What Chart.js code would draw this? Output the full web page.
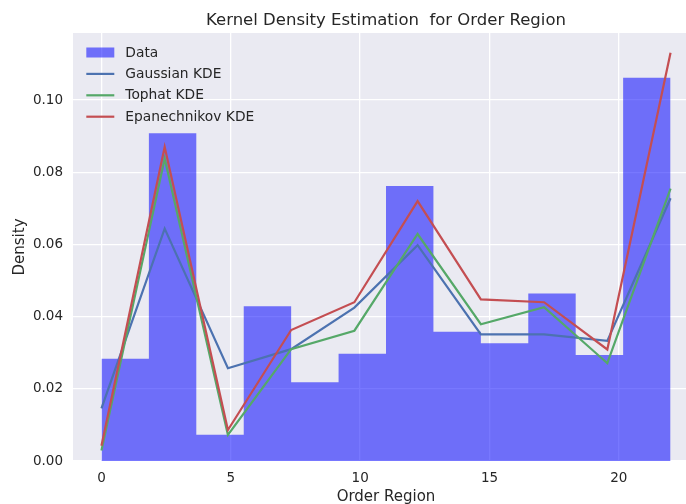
<!DOCTYPE html>
<html>
<head>
<meta charset="utf-8">
<script src="https://cdn.jsdelivr.net/npm/chart.js@4.4.0/dist/chart.umd.min.js"></script>
<style>
  html, body { margin: 0; padding: 0; background: #ffffff; overflow: hidden; }
  canvas { display: block; }
</style>
</head>
<body>
<canvas id="kde" width="712" height="504"></canvas>
<script>
// histogram (density) bins
const binEdges = [0, 1.8333, 3.6667, 5.5, 7.3333, 9.1667, 11, 12.8333, 14.6667, 16.5, 18.3333, 20.1667, 22];
const histDensity = [0.0283, 0.0908, 0.0073, 0.0429, 0.0218, 0.0297, 0.0762, 0.0358, 0.0326, 0.0464, 0.0294, 0.1062];

// KDE evaluation points and curves
const kdeX = [0, 2.444, 4.889, 7.333, 9.778, 12.222, 14.667, 17.111, 19.556, 22];
const gaussianKde = [0.0146, 0.0644, 0.0257, 0.0310, 0.0425, 0.0598, 0.0351, 0.0351, 0.0333, 0.0728];
const tophatKde = [0.0029, 0.0838, 0.0072, 0.0310, 0.0361, 0.0629, 0.0379, 0.0426, 0.0271, 0.0755];
const epanechnikovKde = [0.0042, 0.0870, 0.0086, 0.0363, 0.0440, 0.0720, 0.0448, 0.0440, 0.0309, 0.1131];

const seriesLabels = ["Data", "Gaussian KDE", "Tophat KDE", "Epanechnikov KDE"];
const xTicks = [0, 5, 10, 15, 20];
const yTicks = [0, 0.02, 0.04, 0.06, 0.08, 0.10];

const TITLE = "Kernel Density Estimation  for Order Region";
const X_TITLE = "Order Region";
const Y_TITLE = "Density";
const TEXT = "#262626";
const FONT = "'DejaVu Sans', sans-serif";

// histogram as one stepped, filled outline so adjacent bins join without seams
const histPoints = binEdges.map((e, i) => ({ x: e, y: histDensity[Math.min(i, histDensity.length - 1)] }));
const toPoints = (ys) => ys.map((v, i) => ({ x: kdeX[i], y: v }));

// background, titles and legend, drawn like the seaborn darkgrid figure
const decor = {
  id: 'decor',
  beforeDraw(chart) {
    const { ctx, chartArea: a } = chart;
    ctx.save();
    ctx.fillStyle = '#ffffff';
    ctx.fillRect(0, 0, chart.width, chart.height);
    ctx.fillStyle = '#eaeaf2';
    ctx.fillRect(a.left, a.top, a.right - a.left, a.bottom - a.top);
    ctx.restore();
  },
  afterDraw(chart) {
    const { ctx, chartArea: a } = chart;
    const cx = (a.left + a.right) / 2;
    ctx.save();
    ctx.fillStyle = TEXT;
    ctx.textAlign = 'center';
    ctx.textBaseline = 'alphabetic';
    ctx.font = '16.5px ' + FONT;
    ctx.fillText(TITLE, cx, 25);
    ctx.font = '15px ' + FONT;
    ctx.fillText(X_TITLE, cx, 501);
    ctx.save();
    ctx.translate(24, (a.top + a.bottom) / 2);
    ctx.rotate(-Math.PI / 2);
    ctx.fillText(Y_TITLE, 0, 0);
    ctx.restore();

    // legend, upper left inside the axes
    ctx.font = '13.8px ' + FONT;
    ctx.textAlign = 'left';
    ctx.textBaseline = 'middle';
    chart.data.datasets.forEach((ds, i) => {
      const y = a.top + 19.5 + i * 21.4;
      const x0 = a.left + 13.3;
      if (ds.fill) {
        ctx.fillStyle = ds.backgroundColor;
        ctx.fillRect(x0, y - 5, 28, 10);
      } else {
        ctx.strokeStyle = ds.borderColor;
        ctx.lineWidth = ds.borderWidth;
        ctx.beginPath();
        ctx.moveTo(x0, y);
        ctx.lineTo(x0 + 28, y);
        ctx.stroke();
      }
      ctx.fillStyle = TEXT;
      ctx.fillText(ds.label, x0 + 39, y + 0.5);
    });
    ctx.restore();
  }
};

Chart.defaults.font.family = FONT;
Chart.defaults.color = TEXT;

new Chart(document.getElementById('kde'), {
  type: 'line',
  data: {
    datasets: [
      {
        label: seriesLabels[0],
        data: histPoints,
        stepped: 'before',
        fill: 'origin',
        backgroundColor: 'rgba(0, 0, 255, 0.53)',
        borderColor: 'rgba(0, 0, 0, 0)',
        borderWidth: 0,
        pointRadius: 0,
        order: 4
      },
      {
        label: seriesLabels[1],
        data: toPoints(gaussianKde),
        borderColor: '#4c72b0',
        borderWidth: 2.2,
        pointRadius: 0,
        tension: 0,
        fill: false,
        order: 3
      },
      {
        label: seriesLabels[2],
        data: toPoints(tophatKde),
        borderColor: '#55a868',
        borderWidth: 2.2,
        pointRadius: 0,
        tension: 0,
        fill: false,
        order: 2
      },
      {
        label: seriesLabels[3],
        data: toPoints(epanechnikovKde),
        borderColor: '#c44e52',
        borderWidth: 2.2,
        pointRadius: 0,
        tension: 0,
        fill: false,
        order: 1
      }
    ]
  },
  options: {
    responsive: false,
    animation: false,
    devicePixelRatio: 1,
    layout: { padding: { top: 33, right: 13, left: 0, bottom: 0 } },
    plugins: {
      legend: { display: false },
      title: { display: false },
      tooltip: { enabled: false },
      filler: { propagate: false }
    },
    scales: {
      x: {
        type: 'linear',
        min: -1.1,
        max: 23.1,
        afterFit: (s) => { s.height = 43; },
        afterBuildTicks: (s) => { s.ticks = xTicks.map(v => ({ value: v })); },
        ticks: { padding: 9, font: { size: 13.5 }, color: TEXT },
        grid: { color: '#ffffff', lineWidth: 1.3, drawTicks: false },
        border: { display: false }
      },
      y: {
        min: 0,
        max: 0.1186,
        afterFit: (s) => { s.width = 73; },
        afterBuildTicks: (s) => { s.ticks = yTicks.map(v => ({ value: v })); },
        ticks: { padding: 10, font: { size: 13.5 }, color: TEXT, callback: (v) => v.toFixed(2) },
        grid: { color: '#ffffff', lineWidth: 1.3, drawTicks: false },
        border: { display: false }
      }
    }
  },
  plugins: [decor]
});
</script>
</body>
</html>
